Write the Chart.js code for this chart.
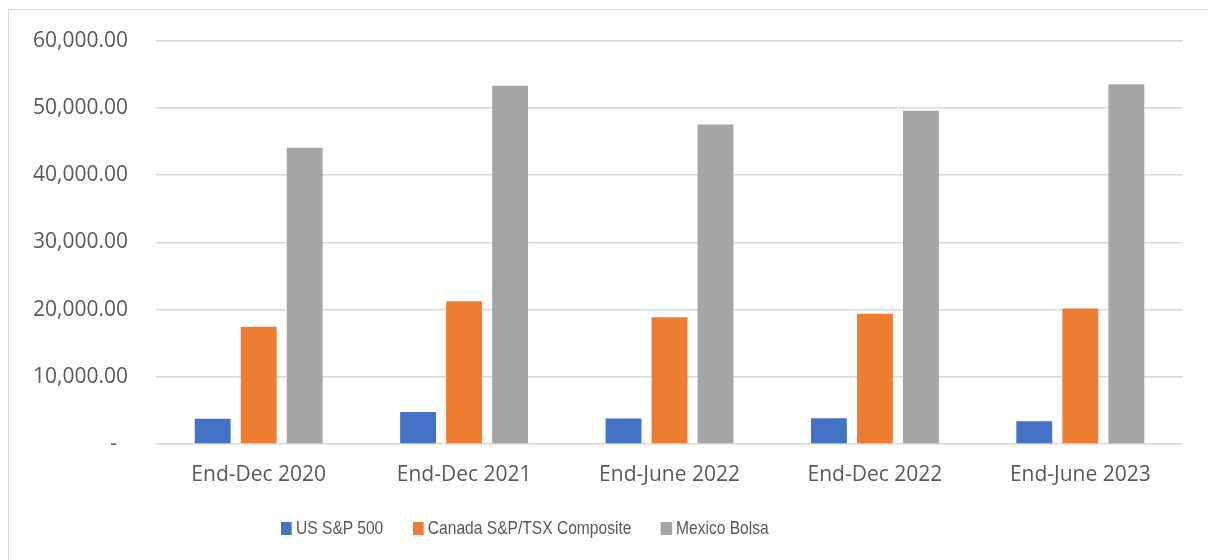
<!DOCTYPE html>
<html>
<head>
<meta charset="utf-8">
<script src="https://cdn.jsdelivr.net/npm/chart.js@4.4.1/dist/chart.umd.min.js"></script>
<style>
    html, body { margin: 0; padding: 0; background: #ffffff; overflow: hidden; }
    #wrap { position: relative; width: 1208px; height: 560px; overflow: hidden; }
    #frame { position: absolute; left: 8px; top: 9px; width: 1300px; height: 700px; border: 1px solid #d9d9d9; }
    #chart { position: absolute; left: 0; top: 0; }
    /* condensed legend text, like the narrow office font */
    #legend {
        position: absolute; left: 281px; top: 514px; height: 28px;
        display: flex; align-items: center;
        transform: scaleX(0.82); transform-origin: left center;
        font-family: 'Liberation Sans', Arial, sans-serif;
        font-size: 19px; color: #595959; white-space: nowrap;
    }
    #legend .item { display: flex; align-items: center; margin-right: 36px; }
    #legend .box { width: 13.4px; height: 13px; margin-right: 5px; }
</style>
</head>
<body>
<div id="wrap">
    <div id="frame"></div>
    <canvas id="chart" width="1208" height="560"></canvas>
    <div id="legend"></div>
</div>
<script>
const categories = ['End-Dec 2020', 'End-Dec 2021', 'End-June 2022', 'End-Dec 2022', 'End-June 2023'];
const usSP500 = [3756, 4766, 3785, 3839, 3400];
const canadaTSX = [17433, 21223, 18861, 19385, 20155];
const mexicoBolsa = [44067, 53272, 47524, 49579, 53526];
const seriesNames = ['US S&P 500', 'Canada S&P/TSX Composite', 'Mexico Bolsa'];
const seriesColors = ['#4472C4', '#ED7D31', '#A5A5A5'];

const tickFont = { family: "'Open Sans', sans-serif", size: 21 };

function formatTick(value) {
    if (value === 0) return '-  ';
    return value.toLocaleString('en-US', { minimumFractionDigits: 2, maximumFractionDigits: 2 });
}

const chart = new Chart(document.getElementById('chart').getContext('2d'), {
    type: 'bar',
    data: {
        labels: categories,
        datasets: [usSP500, canadaTSX, mexicoBolsa].map((values, i) => ({
            label: seriesNames[i],
            data: values,
            backgroundColor: seriesColors[i],
            categoryPercentage: 0.672,
            barPercentage: 0.78
        }))
    },
    options: {
        responsive: false,
        animation: false,
        layout: { padding: { top: 34, right: 25, bottom: 73, left: 0 } },
        plugins: {
            legend: { display: false },
            tooltip: { enabled: false }
        },
        scales: {
            x: {
                grid: { display: false, drawTicks: false },
                border: { display: false },
                ticks: { color: '#595959', font: tickFont, padding: 18 },
                afterFit: scale => { scale.height = 43; }
            },
            y: {
                min: 0,
                max: 60000,
                grid: { color: '#d9d9d9', lineWidth: 1.5, drawTicks: false },
                border: { display: false },
                ticks: { stepSize: 10000, color: '#595959', font: tickFont, padding: 28, callback: formatTick },
                afterFit: scale => { scale.width = 156; }
            }
        }
    }
});

// Legend built from the chart's datasets
const legend = document.getElementById('legend');
chart.data.datasets.forEach(ds => {
    const item = document.createElement('div');
    item.className = 'item';
    const box = document.createElement('span');
    box.className = 'box';
    box.style.background = ds.backgroundColor;
    const text = document.createElement('span');
    text.textContent = ds.label;
    item.appendChild(box);
    item.appendChild(text);
    legend.appendChild(item);
});
</script>
</body>
</html>
